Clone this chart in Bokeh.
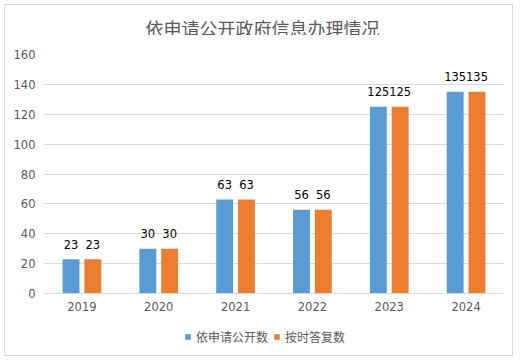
from bokeh.plotting import figure
from bokeh.layouts import column
from bokeh.models import (FactorRange, ColumnDataSource, Legend, LegendItem,
                          Range1d, FixedTicker, Label)
from bokeh.transform import dodge
from bokeh.embed import file_html
from bokeh.resources import INLINE
from bokeh.core.properties import value

# ---- data ----
years = ["2019", "2020", "2021", "2022", "2023", "2024"]
applied = [23, 30, 63, 56, 125, 135]      # 依申请公开数
answered = [23, 30, 63, 56, 125, 135]     # 按时答复数
series_names = ["依申请公开数", "按时答复数"]
title_text = "依申请公开政府信息办理情况"
y_ticks = [0, 20, 40, 60, 80, 100, 120, 140, 160]

colors = ["#5B9BD5", "#ED7D31"]
grey = "#595959"
grid = "#D9D9D9"

src = ColumnDataSource(dict(
    year=years,
    applied=applied,
    answered=answered,
    applied_s=[str(v) for v in applied],
    answered_s=[str(v) for v in answered],
))

W = 507

# ---- title strip (its frame is aligned with the chart frame) ----
tf = figure(width=W, height=30, x_range=(0, 1), y_range=(0, 1),
            output_backend="svg", toolbar_location=None, min_border=0,
            min_border_left=0, min_border_right=0, min_border_top=0,
            min_border_bottom=0)
tf.axis.visible = False
tf.grid.visible = False
tf.outline_line_color = None
tf.add_layout(Label(x=219, y=8, x_units="screen", y_units="screen",
                    text=title_text, text_align="center",
                    text_baseline="middle", text_font="Noto Sans CJK SC",
                    text_font_size="18px", text_color=grey))

# ---- main chart ----
p = figure(width=W, height=283,
           x_range=FactorRange(*years),
           y_range=Range1d(0, 160),
           output_backend="svg", toolbar_location=None,
           min_border_left=38, min_border_right=8,
           min_border_top=19, min_border_bottom=25)

off = 0.142
bw = 0.22
r1 = p.vbar(x=dodge("year", -off, range=p.x_range), top="applied", width=bw,
            source=src, fill_color=colors[0], line_color=None)
r2 = p.vbar(x=dodge("year", off, range=p.x_range), top="answered", width=bw,
            source=src, fill_color=colors[1], line_color=None)

for col, sh in (("applied", -off), ("answered", off)):
    p.text(x=dodge("year", sh, range=p.x_range), y=col, text=col + "_s",
           source=src, text_align="center", text_baseline="alphabetic",
           y_offset=-15, text_font=value("DejaVu Sans"),
           text_font_size="11.5px", text_color="#000000")

for ax in (p.xaxis, p.yaxis):
    ax.major_tick_line_color = None
    ax.minor_tick_line_color = None
    ax.major_tick_out = 0
    ax.major_tick_in = 0
    ax.minor_tick_out = 0
    ax.major_label_text_font = "DejaVu Sans"
    ax.major_label_text_font_size = "11.5px"
    ax.major_label_text_color = grey

p.yaxis.ticker = FixedTicker(ticks=y_ticks)
p.yaxis.axis_line_color = None
p.yaxis.major_label_standoff = 8
p.xaxis.axis_line_color = grid
p.xaxis.major_label_standoff = 8

p.xgrid.grid_line_color = None
p.ygrid.grid_line_color = grid
p.outline_line_color = None

# ---- legend strip ----
lf = figure(width=W, height=37, x_range=(0, 1), y_range=(0, 1),
            output_backend="svg", toolbar_location=None, min_border=0,
            min_border_left=0, min_border_right=0, min_border_top=0,
            min_border_bottom=0)
lf.axis.visible = False
lf.grid.visible = False
lf.outline_line_color = None
# hidden proxies that only supply the legend swatches
l1 = lf.vbar(x="applied", top="applied", width=0.5, source=src,
             fill_color=colors[0], line_color=None, visible=False)
l2 = lf.vbar(x="answered", top="answered", width=0.5, source=src,
             fill_color=colors[1], line_color=None, visible=False)

legend = Legend(items=[LegendItem(label=series_names[0], renderers=[l1]),
                       LegendItem(label=series_names[1], renderers=[l2])],
                orientation="horizontal", location=(141, 10),
                label_text_font="Noto Sans CJK SC", label_text_font_size="12px",
                label_text_color=grey, glyph_width=7, glyph_height=7,
                label_standoff=5, spacing=5, padding=0, margin=0,
                inactive_fill_alpha=0,
                border_line_color=None, background_fill_alpha=0)
lf.add_layout(legend, "center")

layout = column(tf, p, lf, spacing=0,
                styles={"border": "1px solid #D9D9D9", "margin": "4px"})

open("out.html", "w").write(file_html(layout, INLINE))
